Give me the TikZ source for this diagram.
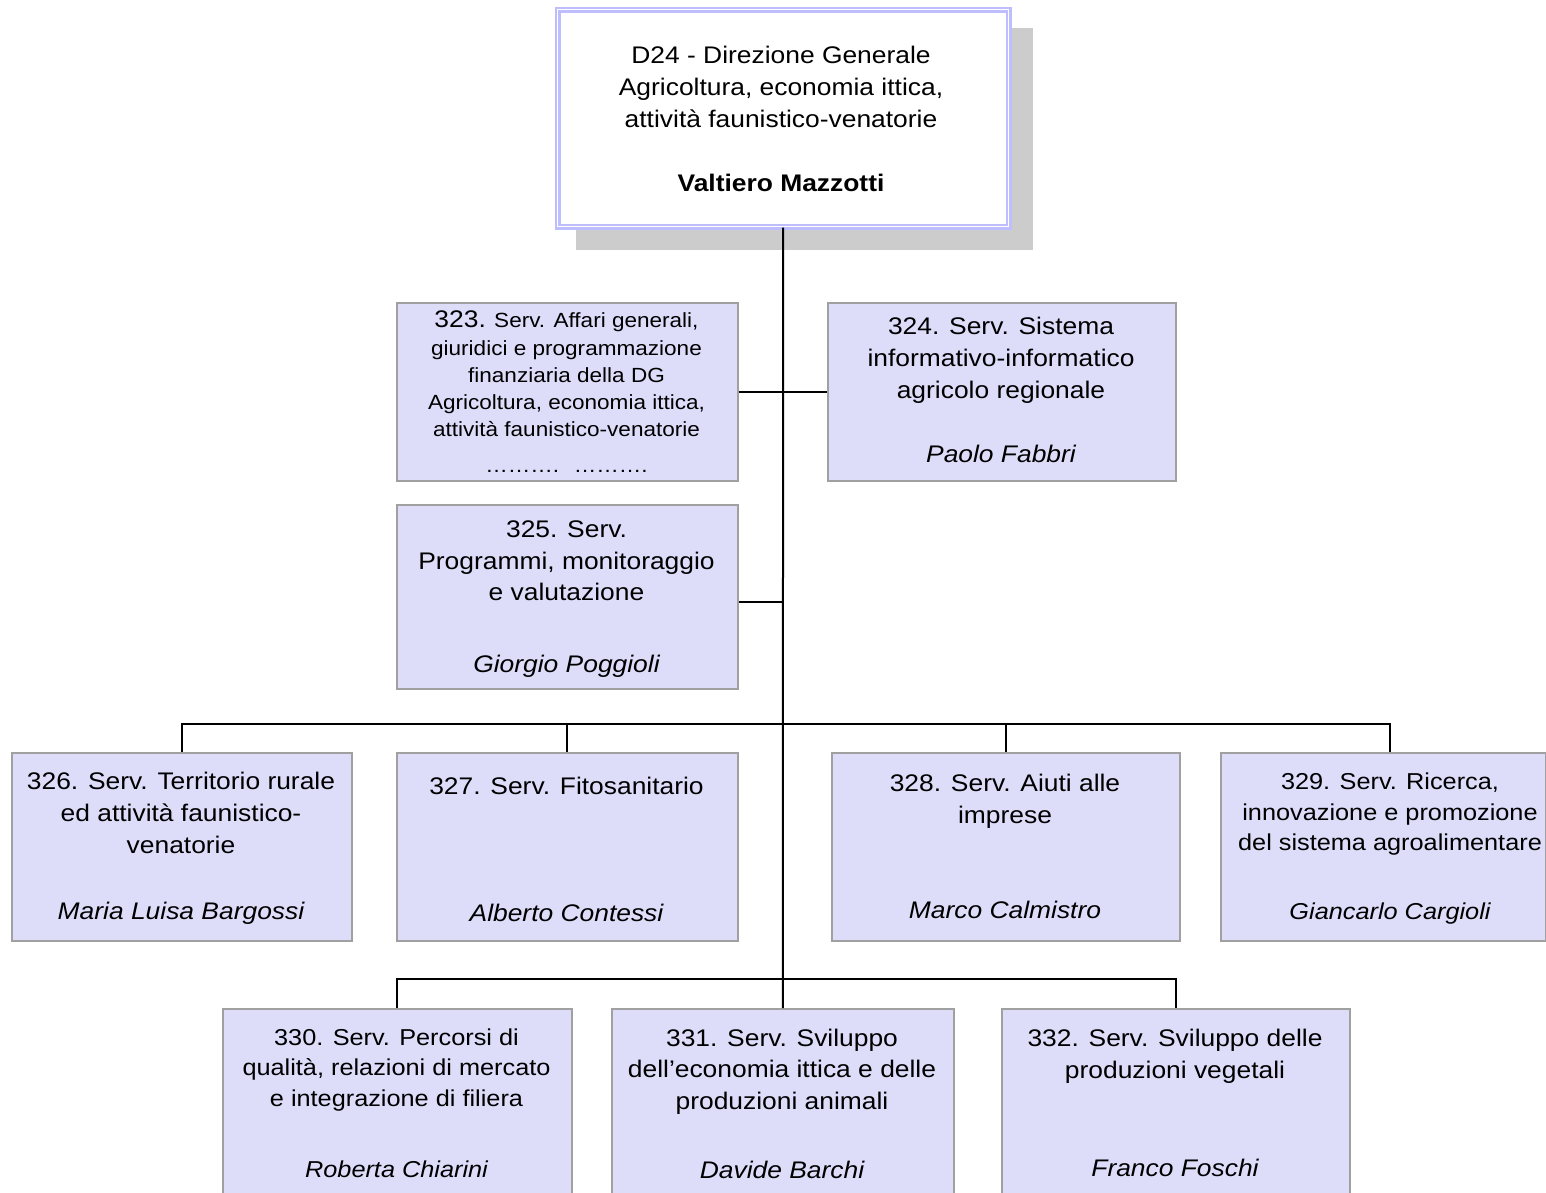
\documentclass[tikz,border=0pt]{standalone}
\usepackage{fontspec}
\setmainfont[FakeStretch=1.1]{Liberation Sans}
\definecolor{boxfill}{RGB}{221,221,250}
\definecolor{boxline}{RGB}{160,160,160}
\definecolor{topline}{RGB}{190,190,255}
\definecolor{shadowgray}{RGB}{204,204,204}
\newcommand\lineat[4]{\node[txt] (#1) at (#2,#3) {#4};}
\newcommand\nameat[4]{\node[nm] (#1) at (#2,#3) {#4};}
\begin{document}
\begin{tikzpicture}[x=1pt,y=-1pt,
  box/.style 2 args={draw=boxline, fill=boxfill, line width=1.7pt, anchor=north west,
    inner sep=0pt, minimum width=#1pt, minimum height=#2pt},
  txt/.style={anchor=base, inner sep=0pt, font=\fontsize{24}{32}\selectfont},
  nm/.style={txt, font=\fontsize{24}{32}\selectfont\itshape},
  conn/.style={draw=black, line width=2pt}]
\useasboundingbox (0,0) rectangle (1546,1192);
\clip (0,0) rectangle (1546,1192);
\fill[white] (0,0) rectangle (1546,1192);
% shadow and top box
\fill[shadowgray] (576,28) rectangle (1033,250);
\node[draw=topline, double=white, double distance=1.5pt, line width=2.2pt, fill=white,
  anchor=north west, inner sep=0pt, minimum width=451pt, minimum height=217pt] (topo) at (556.5,8.5) {};
\lineat{h1}{781}{63}{D24 - Direzione Generale}
\lineat{h2}{781}{95}{Agricoltura, economia ittica,}
\lineat{h3}{781}{127}{attività faunistico-venatorie}
\node[txt, font=\fontsize{24}{32}\selectfont\bfseries] (h4) at (781,191) {Valtiero Mazzotti};
% boxes
\node[box={341}{178}] (b323) at (396,302) {};
\node[box={348}{178}] (b324) at (827,302) {};
\node[box={341}{184}] (b325) at (396,504) {};
\node[box={340}{188}] (b326) at (11,752) {};
\node[box={341}{188}] (b327) at (396,752) {};
\node[box={348}{188}] (b328) at (831,752) {};
\node[box={325}{188}] (b329) at (1220,752) {};
\node[box={349}{200}] (b330) at (222,1008) {};
\node[box={342}{200}] (b331) at (611,1008) {};
\node[box={348}{200}] (b332) at (1001,1008) {};
% 323
\begin{scope}[txt/.append style={font=\fontsize{20.5}{27}\selectfont}]
\lineat{a1}{566.5}{327}{{\fontsize{24}{32}\selectfont 323.} Serv. Affari generali,}
\lineat{a2}{566.5}{355}{giuridici e programmazione}
\lineat{a3}{566.5}{382}{finanziaria della DG}
\lineat{a4}{566.5}{409}{Agricoltura, economia ittica,}
\lineat{a5}{566.5}{436}{attività faunistico-venatorie}
\lineat{a6}{566.5}{472}{………. \ ……….}
\end{scope}
% 324
\lineat{c1}{1001}{334}{324. Serv. Sistema}
\lineat{c2}{1001}{366}{informativo-informatico}
\lineat{c3}{1001}{398}{agricolo regionale}
\nameat{c4}{1001}{462}{Paolo Fabbri}
% 325
\lineat{d1}{566.5}{537}{325. Serv.}
\lineat{d2}{566.5}{569}{Programmi, monitoraggio}
\lineat{d3}{566.5}{600}{e valutazione}
\nameat{d4}{566.5}{672}{Giorgio Poggioli}
% 326
\lineat{e1}{181}{789}{326. Serv. Territorio rurale}
\lineat{e2}{181}{821}{ed attività faunistico-}
\lineat{e3}{181}{853}{venatorie}
\nameat{e4}{181}{919}{Maria Luisa Bargossi}
% 327
\lineat{f1}{566.5}{794}{327. Serv. Fitosanitario}
\nameat{f2}{566.5}{921}{Alberto Contessi}
% 328
\lineat{g1}{1005}{791}{328. Serv. Aiuti alle}
\lineat{g2}{1005}{823}{imprese}
\nameat{g3}{1005}{918}{Marco Calmistro}
% 329
\begin{scope}[txt/.append style={font=\fontsize{23}{30}\selectfont}, nm/.append style={font=\fontsize{23}{30}\selectfont\itshape}]
\lineat{i1}{1390}{789}{329. Serv. Ricerca,}
\lineat{i2}{1390}{820}{innovazione e promozione}
\lineat{i3}{1390}{850}{del sistema agroalimentare}
\nameat{i4}{1390}{919}{Giancarlo Cargioli}
% 330
\lineat{j1}{396.5}{1045}{330. Serv. Percorsi di}
\lineat{j2}{396.5}{1075}{qualità, relazioni di mercato}
\lineat{j3}{396.5}{1106}{e integrazione di filiera}
\nameat{j4}{396.5}{1177}{Roberta Chiarini}
\end{scope}
% 331
\lineat{k1}{782}{1046}{331. Serv. Sviluppo}
\lineat{k2}{782}{1077}{dell’economia ittica e delle}
\lineat{k3}{782}{1109}{produzioni animali}
\nameat{k4}{782}{1178}{Davide Barchi}
% 332
\lineat{l1}{1175}{1046}{332. Serv. Sviluppo delle}
\lineat{l2}{1175}{1078}{produzioni vegetali}
\nameat{l3}{1175}{1176}{Franco Foschi}
% connectors
\coordinate (bus1) at (781,724);
\coordinate (bus2) at (781,979);
\coordinate (d329) at (1390,752);
\draw[conn] (topo.south) -- (b331.north);
\draw[conn] (b323.east) -- (b324.west);
\draw[conn] ([yshift=-5pt]b325.east) -- ([yshift=-5pt]b325.east -| topo.south);
\draw[conn] (b326.north) |- (bus1) -| (d329);
\draw[conn] (b327.north) -- (b327.north |- bus1);
\draw[conn] (b328.north) -- (b328.north |- bus1);
\draw[conn] (b330.north) |- (bus2) -| (b332.north);
\end{tikzpicture}
\end{document}
